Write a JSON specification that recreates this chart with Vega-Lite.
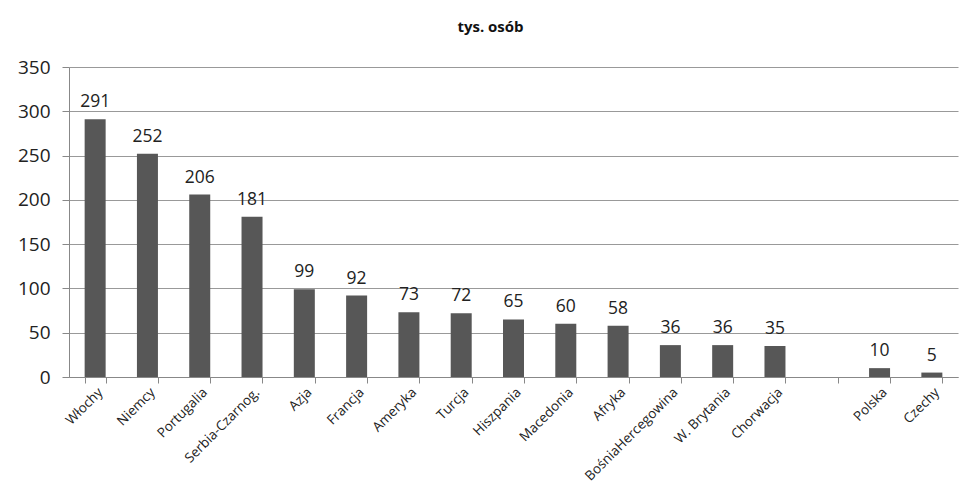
{
  "$schema": "https://vega.github.io/schema/vega-lite/v6.json",
  "autosize": "none",
  "width": 889,
  "height": 310,
  "padding": {"left": 69, "top": 67, "right": 4, "bottom": 119},
  "background": "white",
  "title": {"text": "tys. osób", "fontSize": 15, "font": "Open Sans", "fontWeight": "bold", "color": "#111", "anchor": "middle", "dx": -23, "offset": 23},
  "config": {"view": {"stroke": null}, "font": "Open Sans"},
  "data": {"values": [
    {"kraj": "Włochy", "v": 291},
    {"kraj": "Niemcy", "v": 252},
    {"kraj": "Portugalia", "v": 206},
    {"kraj": "Serbia-Czarnog.", "v": 181},
    {"kraj": "Azja", "v": 99},
    {"kraj": "Francja", "v": 92},
    {"kraj": "Ameryka", "v": 73},
    {"kraj": "Turcja", "v": 72},
    {"kraj": "Hiszpania", "v": 65},
    {"kraj": "Macedonia", "v": 60},
    {"kraj": "Afryka", "v": 58},
    {"kraj": "BośniaHercegowina", "v": 36},
    {"kraj": "W. Brytania", "v": 36},
    {"kraj": "Chorwacja", "v": 35},
    {"kraj": "Polska", "v": 10},
    {"kraj": "Czechy", "v": 5}
  ]},
  "encoding": {
    "x": {"field": "kraj", "type": "nominal", "sort": null,
      "scale": {"domain": ["Włochy","Niemcy","Portugalia","Serbia-Czarnog.","Azja","Francja","Ameryka","Turcja","Hiszpania","Macedonia","Afryka","BośniaHercegowina","W. Brytania","Chorwacja"," ","Polska","Czechy"], "paddingInner": 0.6, "paddingOuter": 0.3},
      "axis": {"title": null, "labelAngle": -45, "labelAlign": "right", "labelBaseline": "top", "labelFontSize": 13.5, "labelColor": "#222", "tickBand": "extent", "tickSize": 6, "tickColor": "#888", "domainColor": "#888", "labelPadding": 2}},
    "y": {"field": "v", "type": "quantitative",
      "scale": {"domain": [0, 350]},
      "axis": {"title": null, "values": [0,50,100,150,200,250,300,350], "labelFontSize": 19, "labelColor": "#222", "tickSize": 7, "tickColor": "#888", "domainColor": "#888", "gridColor": "#999", "labelPadding": 12}}
  },
  "layer": [
    {"mark": {"type": "bar", "color": "#575757", "width": 21}},
    {"mark": {"type": "text", "dy": -17, "fontSize": 17.5, "color": "#222"}, "encoding": {"text": {"field": "v", "type": "quantitative"}}}
  ]
}
